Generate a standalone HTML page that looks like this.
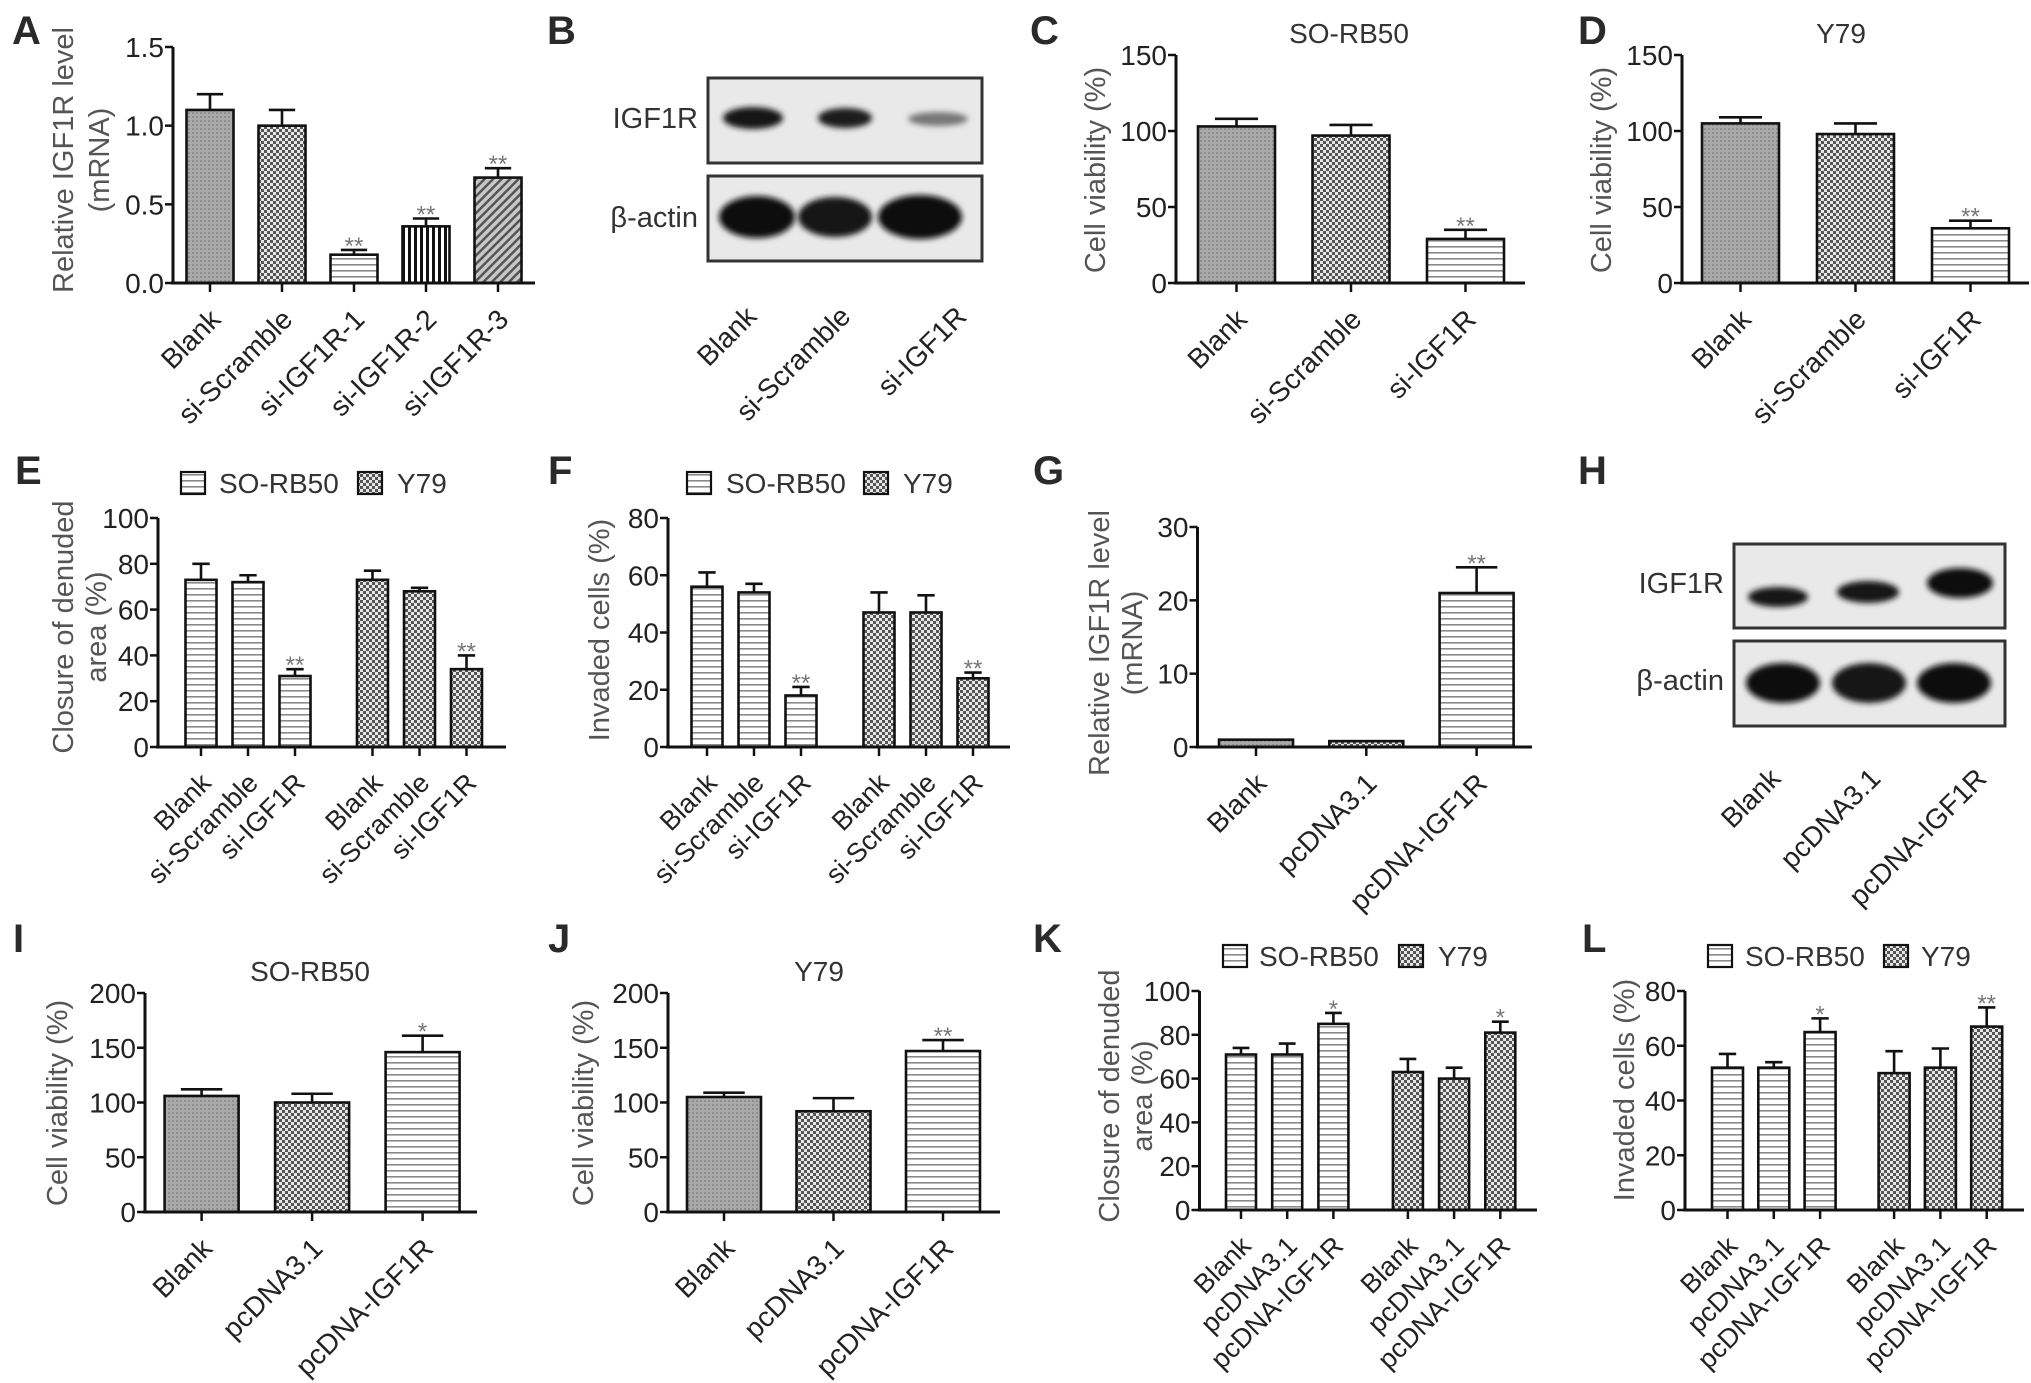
<!DOCTYPE html>
<html><head><meta charset="utf-8"><title>IGF1R figure</title>
<style>
html,body{margin:0;padding:0;background:#fff;}
svg{display:block;font-family:"Liberation Sans",Arial,sans-serif;}
</style></head>
<body>
<svg id="fig" width="2031" height="1383" viewBox="0 0 2031 1383" xmlns="http://www.w3.org/2000/svg">
<defs>
  <pattern id="p-gray" width="4" height="4" patternUnits="userSpaceOnUse">
    <rect width="4" height="4" fill="#a9a9a9"/><rect width="2" height="2" fill="#8f8f8f"/>
  </pattern>
  <pattern id="p-check" width="6" height="6" patternUnits="userSpaceOnUse">
    <rect width="6" height="6" fill="#e6e6e6"/><rect width="3" height="3" fill="#555"/><rect x="3" y="3" width="3" height="3" fill="#555"/>
  </pattern>
  <pattern id="p-hlines" width="6" height="6" patternUnits="userSpaceOnUse">
    <rect width="6" height="6" fill="#fff"/><rect y="0" width="6" height="1.6" fill="#8a8a8a"/>
  </pattern>
  <pattern id="p-vlines" width="6" height="6" patternUnits="userSpaceOnUse">
    <rect width="6" height="6" fill="#fff"/><rect x="0" width="3" height="6" fill="#111"/>
  </pattern>
  <pattern id="p-diag" width="6" height="6" patternUnits="userSpaceOnUse" patternTransform="rotate(45)">
    <rect width="6" height="6" fill="#c8c8c8"/><rect width="2.5" height="6" fill="#555"/>
  </pattern>
  <filter id="blur3" x="-30%" y="-60%" width="160%" height="220%"><feGaussianBlur stdDeviation="3"/></filter>
</defs>
<g id="root"></g>
</svg>
<script>
// ---------- data ----------
const aCats = ["Blank","si-Scramble","si-IGF1R-1","si-IGF1R-2","si-IGF1R-3"];
const aVals = [1.10, 1.00, 0.18, 0.36, 0.67];
const aErr  = [0.10, 0.10, 0.03, 0.05, 0.06];
const aSig  = ["","","**","**","**"];
const aTicks = [0, 0.5, 1.0, 1.5];
const aTickLabels = ["0.0","0.5","1.0","1.5"];

const bCats = ["Blank","si-Scramble","si-IGF1R"];

const cdCats = ["Blank","si-Scramble","si-IGF1R"];
const cVals = [103, 97, 29];
const cErr  = [5, 7, 6];
const cSig  = ["","","**"];
const dVals = [105, 98, 36];
const dErr  = [4, 7, 5];
const dSig  = ["","","**"];
const cdTicks = [0, 50, 100, 150];
const cdTickLabels = ["0","50","100","150"];

const efCats = ["Blank","si-Scramble","si-IGF1R","Blank","si-Scramble","si-IGF1R"];
const eVals = [73, 72, 31, 73, 68, 34];
const eErr  = [7, 3, 3, 4, 1.5, 6];
const eSig  = ["","","**","","","**"];
const eTicks = [0,20,40,60,80,100];
const eTickLabels = ["0","20","40","60","80","100"];
const fVals = [56, 54, 18, 47, 47, 24];
const fErr  = [5, 3, 3, 7, 6, 2];
const fSig  = ["","","**","","","**"];
const fTicks = [0,20,40,60,80];
const fTickLabels = ["0","20","40","60","80"];
const legendLabels = ["SO-RB50","Y79"];

const gCats = ["Blank","pcDNA3.1","pcDNA-IGF1R"];
const gVals = [1.0, 0.8, 21];
const gErr  = [0, 0, 3.5];
const gSig  = ["","","**"];
const gTicks = [0,10,20,30];
const gTickLabels = ["0","10","20","30"];

const hCats = ["Blank","pcDNA3.1","pcDNA-IGF1R"];

const ijCats = ["Blank","pcDNA3.1","pcDNA-IGF1R"];
const iVals = [106, 100, 146];
const iErr  = [6, 8, 15];
const iSig  = ["","","*"];
const jVals = [105, 92, 147];
const jErr  = [4, 12, 10];
const jSig  = ["","","**"];
const ijTicks = [0,50,100,150,200];
const ijTickLabels = ["0","50","100","150","200"];

const klCats = ["Blank","pcDNA3.1","pcDNA-IGF1R","Blank","pcDNA3.1","pcDNA-IGF1R"];
const kVals = [71, 71, 85, 63, 60, 81];
const kErr  = [3, 5, 5, 6, 5, 5];
const kSig  = ["","","*","","","*"];
const lVals = [52, 52, 65, 50, 52, 67];
const lErr  = [5, 2, 5, 8, 7, 7];
const lSig  = ["","","*","","","**"];

// ---------- helpers ----------
const NS = "http://www.w3.org/2000/svg";
const root = document.getElementById("root");
function mk(tag, attrs, parent, text) {
  const el = document.createElementNS(NS, tag);
  for (const k in attrs) el.setAttribute(k, attrs[k]);
  if (text !== undefined) el.textContent = text;
  (parent || root).appendChild(el);
  return el;
}
function panelLetter(t, x, y) {
  const el = mk("text", {x:x, y:y, "font-size":40, "font-weight":"bold", fill:"#2a2a2a"}, root, t);
  
  
}

function drawChart(id, p) {
  const g = mk("g", {});
  
  
  const ys = v => p.zero - v / p.max * (p.zero - p.top);
  const gs = p.groupSize || 999;
  const xs = i => p.x0 + i * p.step + (i >= gs ? p.extra : 0);

  p.vals.forEach((v, i) => {
    const cx = xs(i);
    const r = mk("rect", {x:cx - p.barW/2, y:ys(v), width:p.barW, height:p.zero - ys(v),
      fill:"url(#p-" + p.fills[i] + ")", stroke:"#111", "stroke-width":2.6}, g);
    
    
    const e = p.errs[i];
    if (e > 0) {
      const eb = mk("path", {d:"M" + cx + " " + ys(v) + "V" + ys(v + e) + "M" + (cx - p.barW*0.28) + " " + ys(v + e) + "H" + (cx + p.barW*0.28),
        stroke:"#111", "stroke-width":2.6, fill:"none"}, g);
      
      
    }
    if (p.sig[i]) {
      const s = mk("text", {x:cx, y:ys(v + e) + 4, "text-anchor":"middle", "font-size":24, fill:"#777"}, g, p.sig[i]);
      
      
    }
    mk("line", {x1:cx, x2:cx, y1:p.zero, y2:p.zero + 9, stroke:"#111", "stroke-width":2.5}, g);
    const lx = cx - 2, ly = p.zero + 24;
    const t = mk("text", {x:lx, y:ly, "text-anchor":"end", "font-size":p.catFont || 28, fill:"#222",
      "dominant-baseline":"hanging", transform:"rotate(-45 " + lx + " " + ly + ")"}, g, p.cats[i]);
    
    
  });

  const ax = mk("path", {d:"M" + p.ax + " " + p.top + "V" + p.zero + "M" + (p.ax - 2) + " " + p.zero + "H" + p.right,
    stroke:"#111", "stroke-width":3, fill:"none"}, g);
  
  
  p.ticks.forEach((tv, i) => {
    const y = ys(tv);
    mk("line", {x1:p.ax - 8, x2:p.ax, y1:y, y2:y, stroke:"#111", "stroke-width":2.5}, g);
    const tl = mk("text", {x:p.ax - 9, y:y + 10, "text-anchor":"end", "font-size":28, fill:"#222"}, g, p.tickLabels[i]);
    
    
  });
  p.ylab.forEach(l => {
    const yt = mk("text", {x:l.x, y:p.ycy, "text-anchor":"middle", "dominant-baseline":"central", "font-size":29, fill:"#555",
      transform:"rotate(-90 " + l.x + " " + p.ycy + ")"}, g, l.t);
    
    
  });
  if (p.title) {
    const tt = mk("text", {x:p.title.x, y:p.title.y, "text-anchor":"middle", "font-size":28, fill:"#333"}, g, p.title.t);
    
    
  }
  if (p.legend) {
    const L = p.legend;
    [0, 1].forEach(k => {
      const sq = mk("rect", {x:L.sq[k], y:L.cy - 11, width:24, height:22, fill:"url(#p-" + (k ? "check" : "hlines") + ")", stroke:"#111", "stroke-width":2.2}, g);
      
      
      const lt = mk("text", {x:L.tx[k], y:L.cy + 10, "font-size":28, fill:"#333"}, g, legendLabels[k]);
      
      
    });
  }
}

function drawBlot(id, b) {
  const g = mk("g", {});
  
  
  [b.box1, b.box2].forEach((bx, k) => {
    const r = mk("rect", {x:b.x1, y:bx[0], width:b.x2 - b.x1, height:bx[1] - bx[0], fill:"#e9e9e9", stroke:"#333", "stroke-width":3}, g);
    
    
  });
  b.bands.forEach(bd => {
    mk("ellipse", {cx:bd[0], cy:bd[1], rx:bd[2], ry:bd[3], fill:bd[4], filter:"url(#blur3)"}, g);
  });
  const l1 = mk("text", {x:b.x1 - 10, y:b.lab1y + 10, "text-anchor":"end", "font-size":29, fill:"#333"}, g, "IGF1R");
  
  
  const l2 = mk("text", {x:b.x1 - 10, y:b.lab2y + 10, "text-anchor":"end", "font-size":29, fill:"#333"}, g, "β-actin");
  
  
  b.cats.forEach((c, i) => {
    const lx = b.labX[i], ly = b.labY;
    const t = mk("text", {x:lx, y:ly, "text-anchor":"end", "font-size":28, fill:"#222", "dominant-baseline":"hanging",
      transform:"rotate(-45 " + lx + " " + ly + ")"}, g, c);
    
    
  });
}

// ---------- panels ----------
panelLetter("A", 12, 44); panelLetter("B", 547, 44); panelLetter("C", 1030, 44); panelLetter("D", 1578, 44);
panelLetter("E", 15, 484); panelLetter("F", 548, 484); panelLetter("G", 1033, 484); panelLetter("H", 1578, 484);
panelLetter("I", 13, 952); panelLetter("J", 548, 952); panelLetter("K", 1033, 952); panelLetter("L", 1582, 952);

drawChart("a", {ax:173, top:47, zero:283, right:535, max:1.5, ticks:aTicks, tickLabels:aTickLabels,
  cats:aCats, vals:aVals, errs:aErr, sig:aSig, x0:210, step:72, barW:47,
  fills:["gray","check","hlines","vlines","diag"], ycy:160,
  ylab:[{x:64, t:"Relative IGF1R level"}, {x:100, t:"(mRNA)"}]});

drawBlot("b", {x1:708, x2:982, box1:[78,163], box2:[176,261], lab1y:118, lab2y:217, cats:bCats,
  labX:[744, 838, 954], labY:304,
  bands:[[753,118,30,11,"#151515"],[845,118,27,10,"#1c1c1c"],[938,119,30,7,"#777"],
         [757,217,38,21,"#111"],[835,217,37,20,"#141414"],[920,217,42,22,"#111"]]});

drawChart("c", {ax:1176, top:55, zero:283, right:1525, max:150, ticks:cdTicks, tickLabels:cdTickLabels,
  cats:cdCats, vals:cVals, errs:cErr, sig:cSig, x0:1236.5, step:114.5, barW:77,
  fills:["gray","check","hlines"], ycy:170, ylab:[{x:1096, t:"Cell viability (%)"}],
  title:{x:1349, y:43, t:"SO-RB50"}});

drawChart("d", {ax:1682, top:55, zero:283, right:2029, max:150, ticks:cdTicks, tickLabels:cdTickLabels,
  cats:cdCats, vals:dVals, errs:dErr, sig:dSig, x0:1740.5, step:115, barW:77,
  fills:["gray","check","hlines"], ycy:170, ylab:[{x:1602, t:"Cell viability (%)"}],
  title:{x:1841, y:43, t:"Y79"}});

drawChart("e", {ax:158, top:518, zero:747, right:506, max:100, ticks:eTicks, tickLabels:eTickLabels,
  cats:efCats, vals:eVals, errs:eErr, sig:eSig, x0:201, step:47, extra:30.5, groupSize:3, barW:31,
  fills:["hlines","hlines","hlines","check","check","check"], ycy:627, catFont:27,
  ylab:[{x:64, t:"Closure of denuded"}, {x:97, t:"area (%)"}],
  legend:{cy:483, sq:[181, 358], tx:[219, 397]}});

drawChart("f", {ax:668, top:518, zero:747, right:1010, max:80, ticks:fTicks, tickLabels:fTickLabels,
  cats:efCats, vals:fVals, errs:fErr, sig:fSig, x0:707, step:47, extra:31, groupSize:3, barW:31,
  fills:["hlines","hlines","hlines","check","check","check"], ycy:630, catFont:27,
  ylab:[{x:600, t:"Invaded cells (%)"}],
  legend:{cy:483, sq:[687, 864], tx:[726, 903]}});

drawChart("g", {ax:1197.5, top:527, zero:747, right:1532, max:30, ticks:gTicks, tickLabels:gTickLabels,
  cats:gCats, vals:gVals, errs:gErr, sig:gSig, x0:1256, step:110.3, barW:74,
  fills:["gray","check","hlines"], ycy:643,
  ylab:[{x:1100, t:"Relative IGF1R level"}, {x:1133, t:"(mRNA)"}]});

drawBlot("h", {x1:1734, x2:2005, box1:[544,628], box2:[641,726], lab1y:583, lab2y:680, cats:hCats,
  labX:[1768, 1868, 1974], labY:766,
  bands:[[1778,597,30,10,"#151515"],[1868,592,31,11,"#151515"],[1960,583,33,15,"#111"],
         [1783,683,37,20,"#111"],[1869,683,37,20,"#141414"],[1954,683,37,20,"#111"]]});

drawChart("i", {ax:145, top:993, zero:1212, right:477, max:200, ticks:ijTicks, tickLabels:ijTickLabels,
  cats:ijCats, vals:iVals, errs:iErr, sig:iSig, x0:201.6, step:110.5, barW:74,
  fills:["gray","check","hlines"], ycy:1103, ylab:[{x:58, t:"Cell viability (%)"}],
  title:{x:310, y:981, t:"SO-RB50"}});

drawChart("j", {ax:668, top:993, zero:1212, right:1000, max:200, ticks:ijTicks, tickLabels:ijTickLabels,
  cats:ijCats, vals:jVals, errs:jErr, sig:jSig, x0:724, step:109.5, barW:74,
  fills:["gray","check","hlines"], ycy:1103, ylab:[{x:584, t:"Cell viability (%)"}],
  title:{x:819, y:981, t:"Y79"}});

drawChart("k", {ax:1199.5, top:991, zero:1210, right:1537, max:100, ticks:eTicks, tickLabels:eTickLabels,
  cats:klCats, vals:kVals, errs:kErr, sig:kSig, x0:1241, step:46.2, extra:28.3, groupSize:3, barW:30,
  fills:["hlines","hlines","hlines","check","check","check"], ycy:1096, catFont:27,
  ylab:[{x:1110, t:"Closure of denuded"}, {x:1143, t:"area (%)"}],
  legend:{cy:956, sq:[1223, 1399], tx:[1259, 1438]}});

drawChart("l", {ax:1685, top:991, zero:1210, right:2024, max:80, ticks:fTicks, tickLabels:fTickLabels,
  cats:klCats, vals:lVals, errs:lErr, sig:lSig, x0:1727.5, step:46.3, extra:27.7, groupSize:3, barW:31,
  fills:["hlines","hlines","hlines","check","check","check"], ycy:1090, catFont:27,
  ylab:[{x:1625, t:"Invaded cells (%)"}],
  legend:{cy:956, sq:[1708, 1884], tx:[1745, 1921]}});
</script>
</body></html>
